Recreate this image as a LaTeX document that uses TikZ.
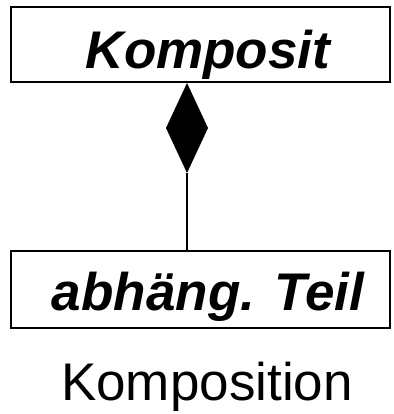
\documentclass[tikz,border=0pt]{standalone}
\usepackage{fontspec}
\setmainfont{Liberation Sans}
\usetikzlibrary{calc}

\tikzset{
  classbox/.style={draw,line width=1.6pt,inner sep=0pt,minimum width=379pt,
    font=\fontsize{53}{60}\selectfont\bfseries\itshape,
    execute at begin node=\hspace*{15pt}},
  caption/.style={inner sep=0pt,anchor=base,font=\fontsize{53}{60}\selectfont}
}

\begin{document}
\begin{tikzpicture}[x=1pt,y=-1pt]
  \useasboundingbox (0,0) rectangle (393,414);
  % whole
  \node[classbox,text height=62pt,text depth=13pt] (komposit) at (200.5,44.5) {Komposit};
  % part
  \node[classbox,text height=59pt,text depth=18pt] (teil) at (200.5,289.5) {abhäng. Teil};
  % filled diamond at the whole
  \coordinate (rautetop) at (187,83);
  \coordinate (rautebot) at (187,173);
  \fill (rautetop) -- ++(21,45) -- (rautebot) -- ++(-21,-45) -- cycle;
  \draw[line width=1.6pt] (rautebot) -- (teil.north -| rautebot);
  % caption
  \node[caption] (titel) at (207,400) {Komposition};
\end{tikzpicture}
\end{document}
